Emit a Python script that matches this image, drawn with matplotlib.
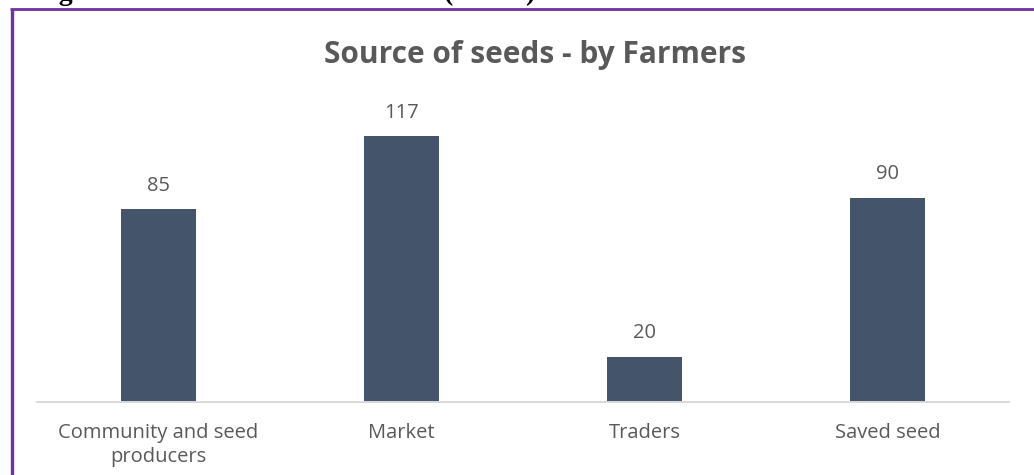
import matplotlib.pyplot as plt
from matplotlib.lines import Line2D

# Source of seeds reported by farmers
categories = ['Community and seed\nproducers', 'Market', 'Traders', 'Saved seed']
counts = [85, 117, 20, 90]

W, H = 1034, 475
fig = plt.figure(figsize=(W / 100, H / 100), dpi=100)
fig.patch.set_facecolor('white')

# plot area in pixel terms: left, bottom, right, top
left, bottom, right, top = 37, 402, 1009, 84
ax = fig.add_axes([left / W, 1 - bottom / H, (right - left) / W, (bottom - top) / H])

text_color = '#595959'
bar_color = '#44546A'
font = 'Open Sans'

x = range(len(categories))
bars = ax.bar(x, counts, width=0.31, color=bar_color, zorder=2)
ax.set_ylim(0, 140)
ax.set_xlim(-0.5, len(categories) - 0.5)

for b, v in zip(bars, counts):
    ax.annotate(str(v), (b.get_x() + b.get_width() / 2, v),
                xytext=(0, 9.5), textcoords='offset points',
                ha='center', va='bottom', fontsize=14.5,
                family=font, color=text_color)

ax.set_xticks(list(x))
ax.set_xticklabels(categories, fontsize=14.5, family=font,
                   color=text_color, linespacing=1.3)
ax.tick_params(axis='x', length=0, pad=15)
ax.set_yticks([])
for side in ['top', 'right', 'left']:
    ax.spines[side].set_visible(False)
ax.spines['bottom'].set_color('#D9D9D9')
ax.spines['bottom'].set_linewidth(1.4)

fig.text(535 / W, 1 - 55 / H, 'Source of seeds - by Farmers',
         ha='center', va='center', fontsize=21.5, fontweight='bold',
         family=font, color=text_color)

# caption above the chart frame, mostly cut off by the top edge
fig.text(34 / W, 1 - 0.5 / H, 'Figure 12: Farmers source of seed (n=312)',
         ha='left', va='baseline', fontsize=20, fontweight='bold',
         family='Liberation Serif', color='black')

# purple chart frame
frame = '#7030A0'
fig.add_artist(Line2D([11.5 / W, 11.5 / W], [1 - 9 / H, 0], transform=fig.transFigure,
                      color=frame, linewidth=2.4, solid_capstyle='butt'))
fig.add_artist(Line2D([10 / W, 1], [1 - 9 / H, 1 - 9 / H], transform=fig.transFigure,
                      color=frame, linewidth=2.0, solid_capstyle='butt'))

fig.savefig('out.png', dpi=100)
